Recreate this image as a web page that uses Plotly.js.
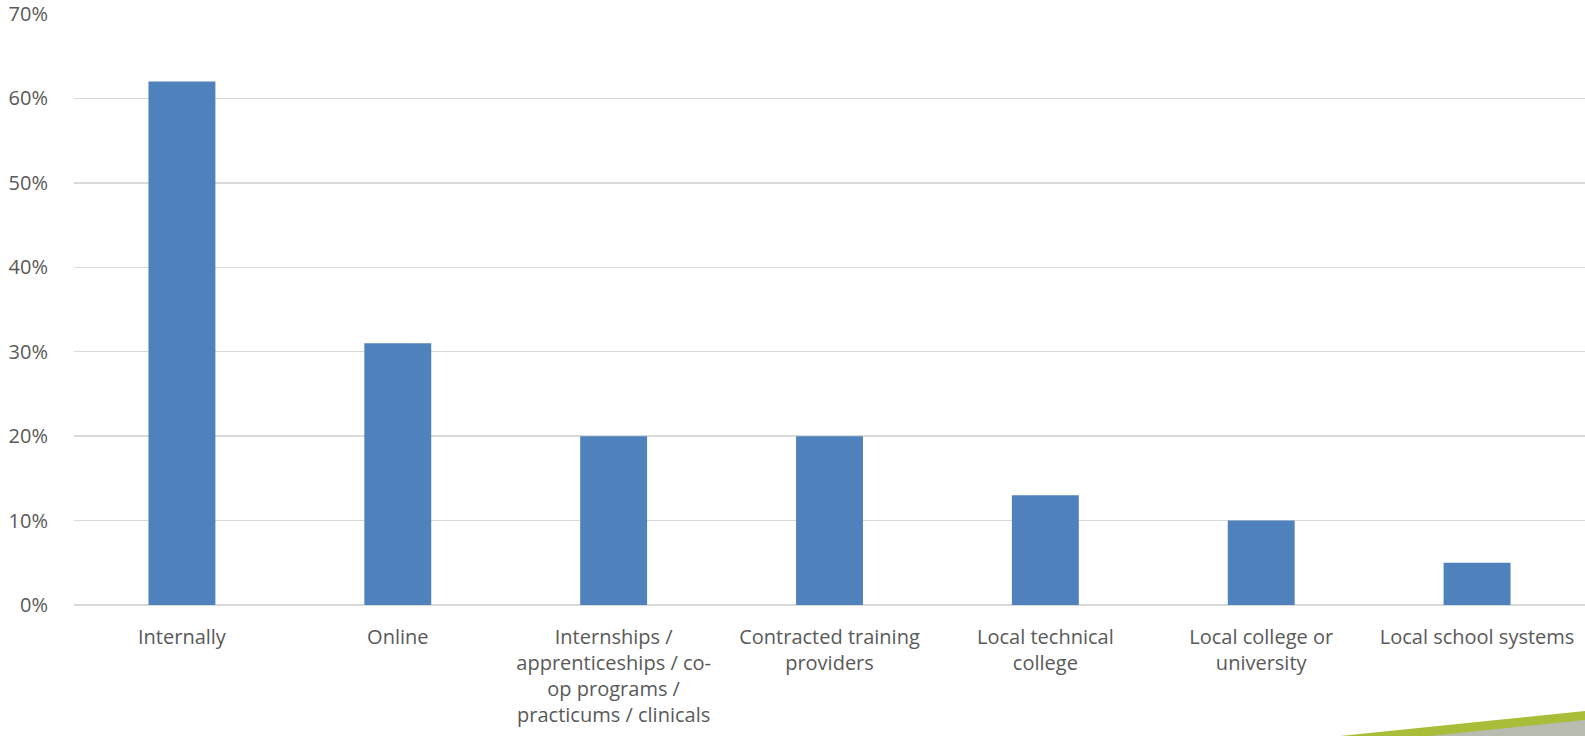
<!DOCTYPE html>
<html>
<head>
<meta charset="utf-8">
<script src="https://cdn.plot.ly/plotly-3.0.1.min.js"></script>
<style>
  html, body { margin: 0; padding: 0; background: #ffffff; }
  #chart { width: 1585px; height: 736px; }
</style>
</head>
<body>
<div id="chart"></div>
<script>
// Where employers obtain training for their workforce (share of respondents)
const categories = [
  "Internally",
  "Online",
  "Internships /<br>apprenticeships / co-<br>op programs /<br>practicums / clinicals",
  "Contracted training<br>providers",
  "Local technical<br>college",
  "Local college or<br>university",
  "Local school systems"
];
const shares = [62, 31, 20, 20, 13, 10, 5];
const yTickValues = [0, 10, 20, 30, 40, 50, 60, 70];
const yTickLabels = ["0%", "10%", "20%", "30%", "40%", "50%", "60%", "70%"];

const W = 1585, H = 736;
const M = { l: 74, r: 0, t: 14, b: 131 };
// pixel -> paper helpers for the decorative footer band
const px = X => (X - M.l) / (W - M.l - M.r);
const py = Y => (H - M.b - Y) / (H - M.t - M.b);

const textGray = "#595959";
const font = { family: "Open Sans, sans-serif", size: 20, color: textGray };

const trace = {
  type: "bar",
  x: categories,
  y: shares,
  marker: { color: "#4F81BD", line: { width: 0 } },
  hoverinfo: "x+y"
};

const layout = {
  width: W,
  height: H,
  margin: M,
  paper_bgcolor: "#ffffff",
  plot_bgcolor: "#ffffff",
  bargap: 0.69,
  showlegend: false,
  font: font,
  xaxis: {
    type: "category",
    showgrid: false,
    zeroline: false,
    showline: false,
    ticks: "",
    tickfont: font,
    tickangle: 0,
    ticklabelstandoff: 18,
    automargin: false
  },
  yaxis: {
    range: [0, 70],
    tickvals: yTickValues,
    ticktext: yTickLabels,
    showgrid: true,
    gridcolor: "#d9d9d9",
    gridwidth: 1.5,
    zeroline: true,
    zerolinecolor: "#d9d9d9",
    zerolinewidth: 2,
    showline: false,
    ticks: "",
    tickfont: font,
    ticklabelstandoff: 25,
    automargin: false
  },
  shapes: [
    {
      type: "path", xref: "paper", yref: "paper", layer: "above",
      path: `M ${px(1340)} ${py(736)} L ${px(1585)} ${py(711)} L ${px(1585)} ${py(736)} Z`,
      fillcolor: "#A9BD38", line: { width: 0 }
    },
    {
      type: "path", xref: "paper", yref: "paper", layer: "above",
      path: `M ${px(1430)} ${py(736)} L ${px(1585)} ${py(720)} L ${px(1585)} ${py(736)} Z`,
      fillcolor: "#B8BCB0", line: { width: 0 }
    }
  ]
};

Plotly.newPlot("chart", [trace], layout, { displayModeBar: false, staticPlot: true });
</script>
</body>
</html>
